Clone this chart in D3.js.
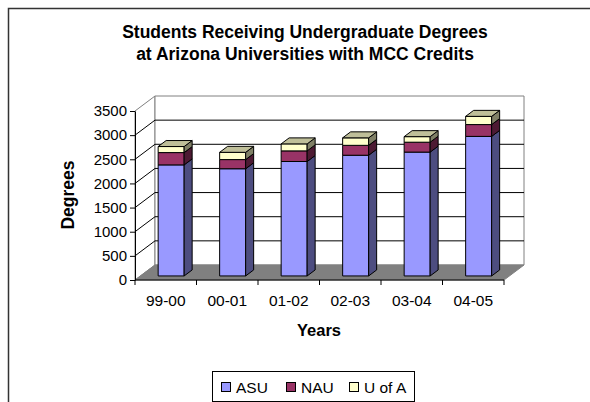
<!DOCTYPE html>
<html>
<head>
<meta charset="utf-8">
<script src="https://cdn.jsdelivr.net/npm/d3@7"></script>
<style>
  body { margin: 0; background: #fff; }
  text { font-family: "Liberation Sans", Arial, sans-serif; }
</style>
</head>
<body>
<div id="chart"></div>
<script>
// Data
const years = ["99-00", "00-01", "01-02", "02-03", "03-04", "04-05"];
const asu = [2300, 2220, 2370, 2500, 2565, 2890];
const nau = [255, 190, 220, 205, 205, 245];
const uofa = [125, 150, 145, 155, 115, 170];
const seriesNames = ["ASU", "NAU", "U of A"];
const yTicks = [0, 500, 1000, 1500, 2000, 2500, 3000, 3500];

const W = 590, H = 402;
const front = {left: 135, right: 504, bottom: 280, top: 111};
const depth = {dx: 20, dy: -15};
const barDepth = [0.27, 0.67]; // front and back of bars, as fraction of floor depth

const colors = {
    ASU: {front: "#9999FF", side: "#4D4D80", top: "#7373BF"},
    NAU: {front: "#993366", side: "#4D1A33", top: "#732650"},
    "U of A": {front: "#FFFFCC", side: "#808066", top: "#BFBF99"}
};

const svg = d3.select("#chart")
    .append("svg")
    .attr("width", W)
    .attr("height", H);

// outer frame (only top and left visible)
svg.append("path")
    .attr("d", `M8.5,${H} V8.5 H${W}`)
    .attr("fill", "none")
    .attr("stroke", "#333")
    .attr("stroke-width", 1.5);

// scales
const x = d3.scaleBand()
    .domain(years)
    .range([front.left, front.right])
    .paddingInner(0)
    .paddingOuter(0);
const y = d3.scaleLinear()
    .domain([0, 3500])
    .range([front.bottom, front.top]);

// project a point at depth t (0 = front, 1 = back)
const P = (px, v, t) => [px + t * depth.dx, y(v) + t * depth.dy];
const pts = arr => arr.map(p => p.join(",")).join(" ");

// left wall
svg.append("polygon")
    .attr("points", pts([P(front.left, 0, 0), P(front.left, 0, 1), P(front.left, 3500, 1), P(front.left, 3500, 0)]))
    .attr("fill", "white")
    .attr("stroke", "#808080");

// back wall
svg.append("polygon")
    .attr("points", pts([P(front.left, 0, 1), P(front.right, 0, 1), P(front.right, 3500, 1), P(front.left, 3500, 1)]))
    .attr("fill", "white")
    .attr("stroke", "#808080");

// gridlines on walls
yTicks.filter(v => v > 0 && v < 3500).forEach(v => {
    const a = P(front.left, v, 0), b = P(front.left, v, 1), c = P(front.right, v, 1);
    svg.append("polyline")
        .attr("points", pts([a, b, c]))
        .attr("fill", "none")
        .attr("stroke", "black")
        .attr("stroke-width", 1);
});

// floor
svg.append("polygon")
    .attr("points", pts([P(front.left, 0, 0), P(front.right, 0, 0), P(front.right, 0, 1), P(front.left, 0, 1)]))
    .attr("fill", "#808080")
    .attr("stroke", "#808080");

// bars
const bw = 26;
years.forEach((yr, i) => {
    const cx = x(yr) + x.bandwidth() / 2;
    const x0 = cx - bw / 2, x1 = cx + bw / 2;
    const vals = [asu[i], nau[i], uofa[i]];
    let base = 0;
    vals.forEach((v, s) => {
        const lo = base, hi = base + v;
        const c = colors[seriesNames[s]];
        const [t0, t1] = barDepth;
        // front face
        svg.append("polygon")
            .attr("points", pts([P(x0, lo, t0), P(x1, lo, t0), P(x1, hi, t0), P(x0, hi, t0)]))
            .attr("fill", c.front).attr("stroke", "black").attr("stroke-linejoin", "round");
        // right side
        svg.append("polygon")
            .attr("points", pts([P(x1, lo, t0), P(x1, lo, t1), P(x1, hi, t1), P(x1, hi, t0)]))
            .attr("fill", c.side).attr("stroke", "black").attr("stroke-linejoin", "round");
        // top
        if (s === vals.length - 1) {
            svg.append("polygon")
                .attr("points", pts([P(x0, hi, t0), P(x1, hi, t0), P(x1, hi, t1), P(x0, hi, t1)]))
                .attr("fill", c.top).attr("stroke", "black").attr("stroke-linejoin", "round");
        }
        base = hi;
    });
});

// y axis
svg.append("g")
    .attr("transform", `translate(${front.left},0)`)
    .call(d3.axisLeft(y).tickValues(yTicks).tickFormat(d3.format("d")).tickSize(5).tickPadding(3).tickSizeOuter(0))
    .call(g => g.select(".domain").attr("stroke", "black"))
    .call(g => g.selectAll("text").style("font-size", "15px").style("font-family", "Liberation Sans, Arial, sans-serif").attr("fill", "black"));

// x axis: line + ticks at category boundaries, labels centred
const xAxis = svg.append("g").attr("transform", `translate(0,${front.bottom})`);
xAxis.append("line")
    .attr("x1", front.left).attr("x2", front.right)
    .attr("stroke", "black");
d3.range(years.length + 1).forEach(i => {
    const px = front.left + i * x.step();
    xAxis.append("line")
        .attr("x1", px).attr("x2", px).attr("y1", 0).attr("y2", 5)
        .attr("stroke", "black");
});
xAxis.selectAll(".xl")
    .data(years)
    .enter().append("text")
    .attr("x", d => x(d) + x.bandwidth() / 2)
    .attr("y", 26)
    .attr("text-anchor", "middle")
    .style("font-size", "15.5px")
    .text(d => d);

// titles
const title = svg.append("text")
    .attr("text-anchor", "middle")
    .style("font-size", "17.5px")
    .style("font-weight", "bold");
title.append("tspan").attr("x", 305).attr("y", 38).text("Students Receiving Undergraduate Degrees");
title.append("tspan").attr("x", 305).attr("y", 60).text("at Arizona Universities with MCC Credits");

svg.append("text")
    .attr("x", 319).attr("y", 336)
    .attr("text-anchor", "middle")
    .style("font-size", "16.5px")
    .style("font-weight", "bold")
    .text("Years");

svg.append("text")
    .attr("transform", "translate(74,195) rotate(-90)")
    .attr("text-anchor", "middle")
    .style("font-size", "17.5px")
    .style("font-weight", "bold")
    .text("Degrees");

// legend
const legend = svg.append("g");
legend.append("rect")
    .attr("x", 212.5).attr("y", 371.5)
    .attr("width", 202).attr("height", 30)
    .attr("fill", "white").attr("stroke", "black");
const legendX = [221, 286, 349];
seriesNames.forEach((n, i) => {
    legend.append("rect")
        .attr("x", legendX[i] + 0.5).attr("y", 382.5)
        .attr("width", 9).attr("height", 9)
        .attr("fill", colors[n].front).attr("stroke", "black");
    legend.append("text")
        .attr("x", legendX[i] + 15).attr("y", 392.5)
        .style("font-size", "15.5px")
        .text(n);
});
</script>
</body>
</html>
